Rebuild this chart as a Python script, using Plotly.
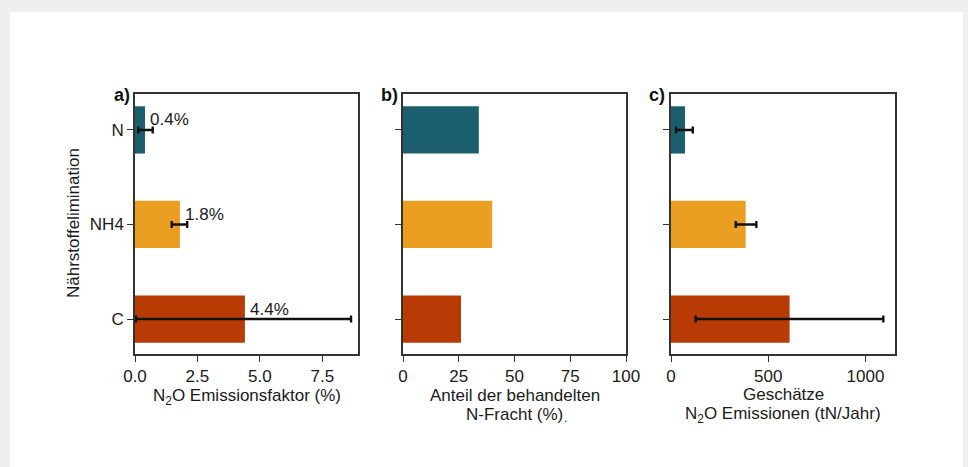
import plotly.graph_objects as go

# ---- data ----
categories = ["C", "NH4", "N"]
colors = ["#b83a04", "#eb9f22", "#1b5e6e"]

ef_values = [4.4, 1.8, 0.4]
ef_err_minus = [4.36, 0.33, 0.27]
ef_err_plus = [4.25, 0.29, 0.31]
ef_labels = ["4.4%", "1.8%", "0.4%"]

share_values = [26, 40, 34]

emis_values = [610, 384, 72]
emis_err_minus = [483, 51, 46]
emis_err_plus = [482, 55, 40]

W, H = 968, 467
FONT = "Liberation Sans, Arial, sans-serif"
FS = 17
TXT = "#1a1a1a"


def fx(x):
    return x / W


def fy(y):
    return 1 - y / H


fig = go.Figure()

bar_width = 0.5
err_style = dict(type="data", symmetric=False, color="#111111", thickness=2.4, width=3.5)

fig.add_trace(go.Bar(
    x=ef_values, y=categories, orientation="h", width=bar_width,
    marker=dict(color=colors, line=dict(width=0)),
    error_x=dict(array=ef_err_plus, arrayminus=ef_err_minus, **err_style),
    xaxis="x", yaxis="y", showlegend=False, hoverinfo="x+y",
))
fig.add_trace(go.Bar(
    x=share_values, y=categories, orientation="h", width=bar_width,
    marker=dict(color=colors, line=dict(width=0)),
    xaxis="x2", yaxis="y2", showlegend=False, hoverinfo="x+y",
))
fig.add_trace(go.Bar(
    x=emis_values, y=categories, orientation="h", width=bar_width,
    marker=dict(color=colors, line=dict(width=0)),
    error_x=dict(array=emis_err_plus, arrayminus=emis_err_minus, **err_style),
    xaxis="x3", yaxis="y3", showlegend=False, hoverinfo="x+y",
))

panels = [
    ((135, 358), [0, 8.93], [0, 2.5, 5, 7.5], ["0.0", "2.5", "5.0", "7.5"]),
    ((403, 626), [0, 100], [0, 25, 50, 75, 100], ["0", "25", "50", "75", "100"]),
    ((671, 895), [0, 1152], [0, 500, 1000], ["0", "500", "1000"]),
]
y_top, y_bot = 94, 354
yrange = [-0.37, 2.38]

axis_common = dict(
    showline=True, linecolor="#333333", linewidth=1.5, mirror=True,
    ticks="outside", ticklen=6, tickwidth=1.3, tickcolor="#333333",
    showgrid=False, zeroline=False, automargin=False,
    tickfont=dict(family=FONT, size=FS, color=TXT),
)

layout_axes = {}
for i, ((x0, x1), xr, tv, tt) in enumerate(panels):
    sfx = "" if i == 0 else str(i + 1)
    layout_axes["xaxis" + sfx] = dict(
        domain=[fx(x0), fx(x1)], range=xr, tickvals=tv, ticktext=tt,
        anchor="y" + sfx, **axis_common,
    )
    layout_axes["yaxis" + sfx] = dict(
        domain=[fy(y_bot), fy(y_top)], range=yrange, type="category",
        categoryorder="array", categoryarray=categories,
        anchor="x" + sfx, showticklabels=(i == 0), **axis_common,
    )

annotations = []
for cat, v, lab in zip(categories, ef_values, ef_labels):
    annotations.append(dict(
        x=v, y=cat, xref="x", yref="y", text=lab, showarrow=False,
        xanchor="left", yanchor="middle", xshift=3, yshift=10,
        font=dict(family=FONT, size=FS, color=TXT),
    ))

for lab, xp in [("a)", 132), ("b)", 400), ("c)", 667)]:
    annotations.append(dict(
        x=fx(xp), y=fy(95), xref="paper", yref="paper", text="<b>" + lab + "</b>",
        showarrow=False, xanchor="right", yanchor="middle",
        font=dict(family=FONT, size=FS + 1, color="#111111"),
    ))

titles = [
    (246.5, 397, "N<sub>2</sub>O Emissionsfaktor (%)"),
    (514.5, 395.5, "Anteil der behandelten"),
    (514.5, 414, "N-Fracht (%)"),
    (783, 394.5, "Geschätze"),
    (783, 414.5, "N<sub>2</sub>O Emissionen (tN/Jahr)"),
]
for xp, yp, t in titles:
    annotations.append(dict(
        x=fx(xp), y=fy(yp), xref="paper", yref="paper", text=t,
        showarrow=False, xanchor="center", yanchor="middle",
        font=dict(family=FONT, size=FS, color=TXT),
    ))
annotations.append(dict(
    x=fx(565), y=fy(418), xref="paper", yref="paper", text=".",
    showarrow=False, xanchor="center", yanchor="middle",
    font=dict(family=FONT, size=12, color=TXT),
))
annotations.append(dict(
    x=fx(73), y=fy(223), xref="paper", yref="paper", text="Nährstoffelimination",
    showarrow=False, xanchor="center", yanchor="middle", textangle=-90,
    font=dict(family=FONT, size=FS, color=TXT),
))

fig.update_layout(
    width=W, height=H, autosize=False,
    margin=dict(l=0, r=0, t=0, b=0, pad=0, autoexpand=False),
    paper_bgcolor="#eef0ef", plot_bgcolor="white",
    shapes=[dict(type="rect", xref="paper", yref="paper",
                 x0=fx(10), x1=fx(963), y0=fy(470), y1=fy(12),
                 fillcolor="white", line=dict(width=0), layer="below")],
    annotations=annotations,
    **layout_axes,
)

fig.write_html(
    "out.html",
    config={"responsive": False, "displayModeBar": False},
    post_script=(
        "document.body.style.margin='0';"
        "document.body.style.padding='0';"
        "document.body.style.overflow='hidden';"
        "document.documentElement.style.overflow='hidden';"
    ),
)
